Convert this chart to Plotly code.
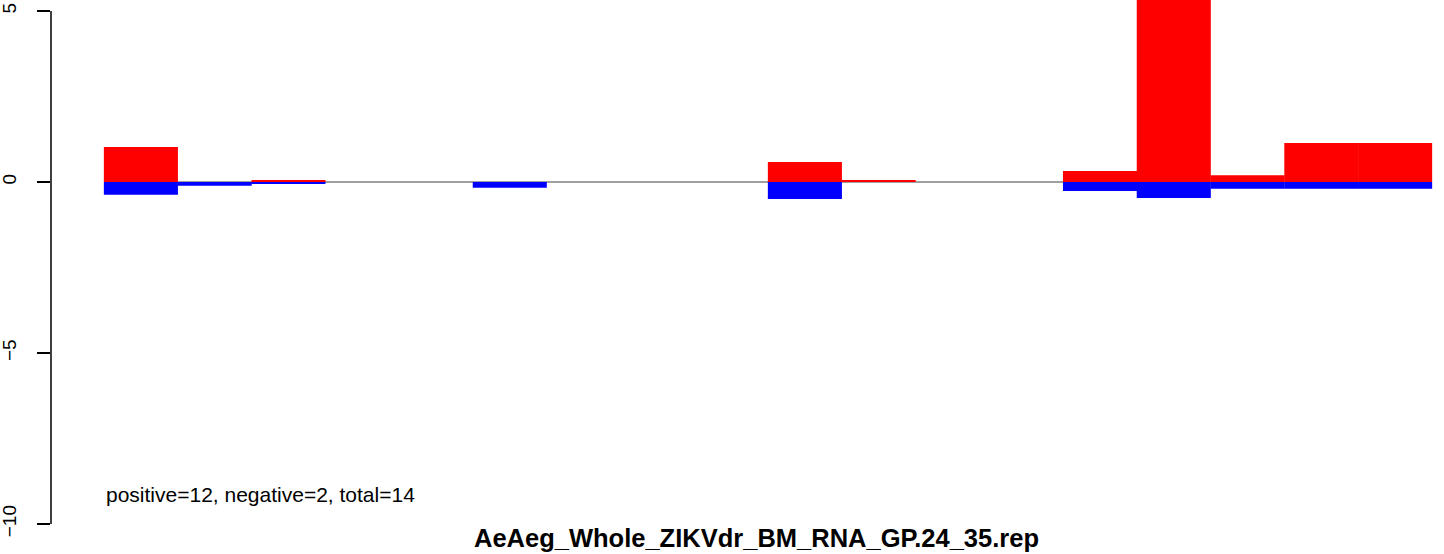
import plotly.graph_objects as go

# Data (18 bins)
bins = list(range(1, 19))
positive = [1.02, 0.0, 0.04, 0.0, 0.0, 0.0, 0.0, 0.0, 0.0, 0.585, 0.04, 0.0, 0.0, 0.32, 7.5, 0.2, 1.14, 1.14]
negative = [-0.37, -0.11, -0.05, 0.0, 0.0, -0.165, 0.0, 0.0, 0.0, -0.5, 0.0, 0.0, 0.0, -0.26, -0.47, -0.2, -0.2, -0.2]
y_ticks = [-10, -5, 0, 5]
y_tick_labels = ["\u221210", "\u22125", "0", "5"]
title_text = "AeAeg_Whole_ZIKVdr_BM_RNA_GP.24_35.rep"
note_text = "positive=12, negative=2, total=14"

W, H = 1444, 554
ml, mr, mt, mb = 51, 0, 0, 10
px_per_x = (1432 - 104) / 18.0
px_per_y = 171 / 5.0
zero_px = 182

x_lo = 0.5 - (104 - ml) / px_per_x
x_hi = 18.5 + (W - mr - 1432) / px_per_x
y_hi = (zero_px - mt) / px_per_y
y_lo = -((H - mb) - zero_px) / px_per_y
plot_h = H - mt - mb
plot_w = W - ml - mr

fig = go.Figure()
fig.add_trace(go.Bar(x=bins, y=positive, width=1.004, marker=dict(color="#FF0000", line=dict(width=0)),
                     showlegend=False, hoverinfo="skip"))
fig.add_trace(go.Bar(x=bins, y=negative, width=1.004, marker=dict(color="#0000FF", line=dict(width=0)),
                     showlegend=False, hoverinfo="skip"))

fig.update_layout(
    width=W, height=H,
    margin=dict(l=ml, r=mr, t=mt, b=mb, autoexpand=False),
    barmode="overlay",
    paper_bgcolor="white", plot_bgcolor="white",
    font=dict(family="Liberation Sans, Arial, sans-serif", color="black"),
    xaxis=dict(range=[x_lo, x_hi], visible=False, showgrid=False, zeroline=False, automargin=False),
    yaxis=dict(range=[y_lo, y_hi], showgrid=False, zeroline=False, showline=False, automargin=False,
               tickmode="array", tickvals=y_ticks, ticktext=y_tick_labels,
               ticks="outside", ticklen=13, tickwidth=1.5, tickcolor="black",
               ticklabelstandoff=13,
               tickangle=-90, tickfont=dict(size=19, color="black")),
    shapes=[
        dict(type="line", xref="x", yref="y", x0=0.5, x1=18.5, y0=0, y1=0,
             line=dict(color="#A0A0A0", width=2), layer="below"),
        dict(type="line", xref="paper", yref="y", x0=0, x1=0, y0=-10, y1=5,
             line=dict(color="black", width=1.5)),
    ],
    annotations=[
        dict(text=note_text, xref="x", yref="y", x=0.5, y=-9.15, xanchor="left", yanchor="middle",
             showarrow=False, font=dict(size=21, color="black")),
        dict(text="<b>" + title_text + "</b>", xref="paper", yref="paper",
             x=(756 - ml) / plot_w, y=-(538 - (H - mb)) / plot_h,
             xanchor="center", yanchor="middle", showarrow=False,
             font=dict(size=25.5, color="black")),
    ],
)

fig.write_html("out.html",
               config={"displayModeBar": False},
               post_script="document.body.style.margin='0';document.body.style.overflow='hidden';")
